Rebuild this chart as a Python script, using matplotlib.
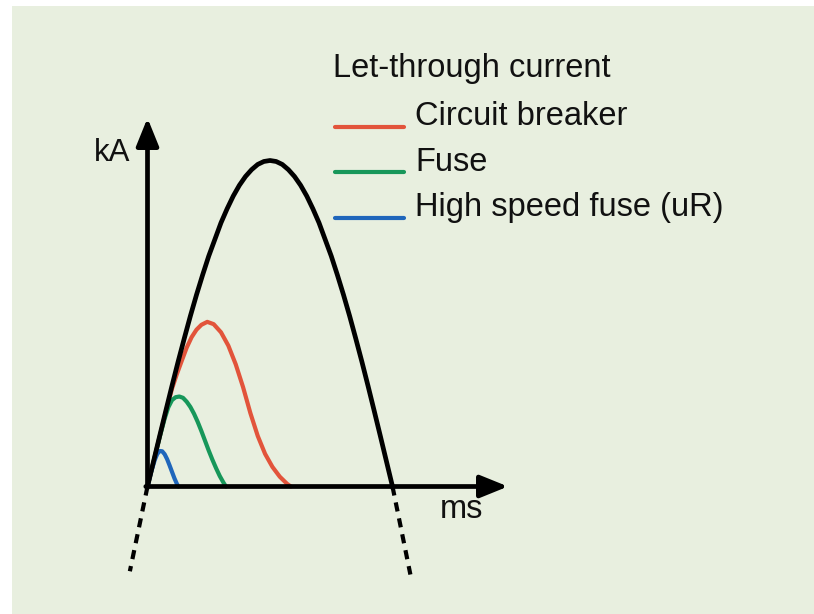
import numpy as np
import matplotlib
matplotlib.use('Agg')
import matplotlib.pyplot as plt
from matplotlib.patches import Rectangle

plt.rcParams['font.family'] = ['Liberation Sans', 'DejaVu Sans']

# prospective short-circuit current (black)
t_prosp = [0, 0.25, 0.5, 0.75, 1.0, 1.25, 1.5, 1.75, 2.0, 2.25, 2.5,
           2.75, 3.0, 3.25, 3.5, 3.75, 4.0, 4.25, 4.5, 4.75, 5.0,
           5.25, 5.5, 5.75, 6.0, 6.25, 6.5, 6.75, 7.0, 7.25, 7.5,
           7.75, 8.0, 8.25, 8.5, 8.75, 9.0, 9.25, 9.5, 9.75, 10.0]
i_prosp = [0, 7.8, 15.6, 23.3, 30.9, 38.3, 45.4, 52.3, 58.8, 64.9, 70.7,
           75.8, 80.9, 85.2, 89.1, 92.4, 95.1, 97.2, 98.8, 99.7, 100,
           99.7, 98.8, 97.2, 95.1, 92.4, 89.1, 85.2, 80.9, 75.8, 70.7,
           64.9, 58.8, 52.3, 45.4, 38.3, 30.9, 23.3, 15.6, 7.8, 0]
# dashed continuations below the time axis
t_dash_left = [0, -0.72]
i_dash_left = [0, -26]
t_dash_right = [10.0, 10.73]
i_dash_right = [0, -27]

# let-through currents
t_breaker = [0, 0.25, 0.5, 0.75, 1.0, 1.2, 1.4, 1.6, 1.8, 2.0, 2.2, 2.44,
             2.7, 3.0, 3.3, 3.6, 3.9, 4.2, 4.5, 4.8, 5.1, 5.4, 5.7, 5.85]
i_breaker = [0, 7.7, 15.4, 22.9, 30.0, 34.5, 38.6, 42.6, 45.8, 48.1, 49.6, 50.5,
             49.8, 47.3, 43.2, 37.5, 30.5, 22.5, 15.5, 10.0, 6.0, 3.0, 0.8, 0]
t_fuse = [0, 0.25, 0.5, 0.7, 0.85, 1.0, 1.15, 1.3, 1.45, 1.6, 1.75, 1.9,
          2.05, 2.2, 2.35, 2.5, 2.65, 2.8, 2.95, 3.1, 3.2]
i_fuse = [0, 7.7, 15.2, 20.8, 24.3, 26.5, 27.4, 27.6, 27.2, 26.0, 24.4, 22.3,
          19.8, 17.0, 14.0, 11.0, 8.2, 5.6, 3.2, 1.2, 0]
t_uR = [0, 0.15, 0.3, 0.4, 0.5, 0.6, 0.7, 0.8, 0.9, 1.0, 1.1, 1.2, 1.26]
i_uR = [0, 4.5, 8.2, 10.0, 10.9, 10.8, 9.9, 8.4, 6.5, 4.5, 2.5, 0.8, 0]

labels = ['Circuit breaker', 'Fuse', 'High speed fuse (uR)']
colors = ['#e2543b', '#17975a', '#1f66bb']
legend_title = 'Let-through current'

W, H = 814, 614
x0, y0 = 147.5, 486.5      # origin in pixels
sx, sy = 24.5, 3.26        # pixels per unit

fig = plt.figure(figsize=(W / 100, H / 100), dpi=100, facecolor='white')
ax = fig.add_axes([0, 0, 1, 1])
ax.set_xlim(-x0 / sx, (W - x0) / sx)
ax.set_ylim((y0 - H) / sy, y0 / sy)
ax.axis('off')

def fx(px):
    return px / W

def fy(py):
    return 1 - py / H

ax.add_patch(Rectangle((fx(12), 0), 1 - fx(12), fy(6), transform=ax.transAxes,
                       facecolor='#e8efdf', edgecolor='none', zorder=0))

# coloured curves sit under the black one
for t, i, c in [(t_breaker, i_breaker, colors[0]),
                (t_fuse, i_fuse, colors[1]),
                (t_uR, i_uR, colors[2])]:
    ax.plot(t, i, color=c, lw=3.0, solid_capstyle='round',
            solid_joinstyle='round', zorder=2)

ax.plot(t_prosp, i_prosp, color='black', lw=3.4, solid_joinstyle='round', zorder=3)
for t, i in [(t_dash_left, i_dash_left), (t_dash_right, i_dash_right)]:
    ax.plot(t, i, color='black', lw=3.0, dashes=(2.2, 1.7), zorder=3)

# axes with arrow heads
arrow = dict(arrowstyle='-|>,head_length=0.42,head_width=0.17', lw=3.4,
             color='black', mutation_scale=40, shrinkA=0, shrinkB=0)
ax.annotate('', xy=(0, (y0 - 118) / sy), xytext=(0, 0), arrowprops=arrow, zorder=4)
ax.annotate('', xy=((508 - x0) / sx, 0), xytext=(-0.07, 0), arrowprops=arrow, zorder=4)

ax.text(fx(112), fy(161), 'kA', fontsize=22.5, ha='center', va='baseline',
        transform=ax.transAxes, color='#111111')
ax.text(fx(462), fy(518), 'ms', fontsize=23.5, ha='center', va='baseline',
        transform=ax.transAxes, color='#111111')

# legend drawn by hand
ax.text(fx(333), fy(77), legend_title, fontsize=23.5, ha='left', va='baseline',
        transform=ax.transAxes, color='#111111')
for k, (lab, c) in enumerate(zip(labels, colors)):
    ly = 126.7 + 45.5 * k
    ax.plot([fx(335), fx(404)], [fy(ly), fy(ly)], color=c, lw=3.0,
            solid_capstyle='round', transform=ax.transAxes)
    ax.text(fx(415), fy(ly - 1.5), lab, fontsize=23.5, ha='left', va='baseline',
            transform=ax.transAxes, color='#111111')

fig.savefig('out.png', dpi=100, facecolor='white')
